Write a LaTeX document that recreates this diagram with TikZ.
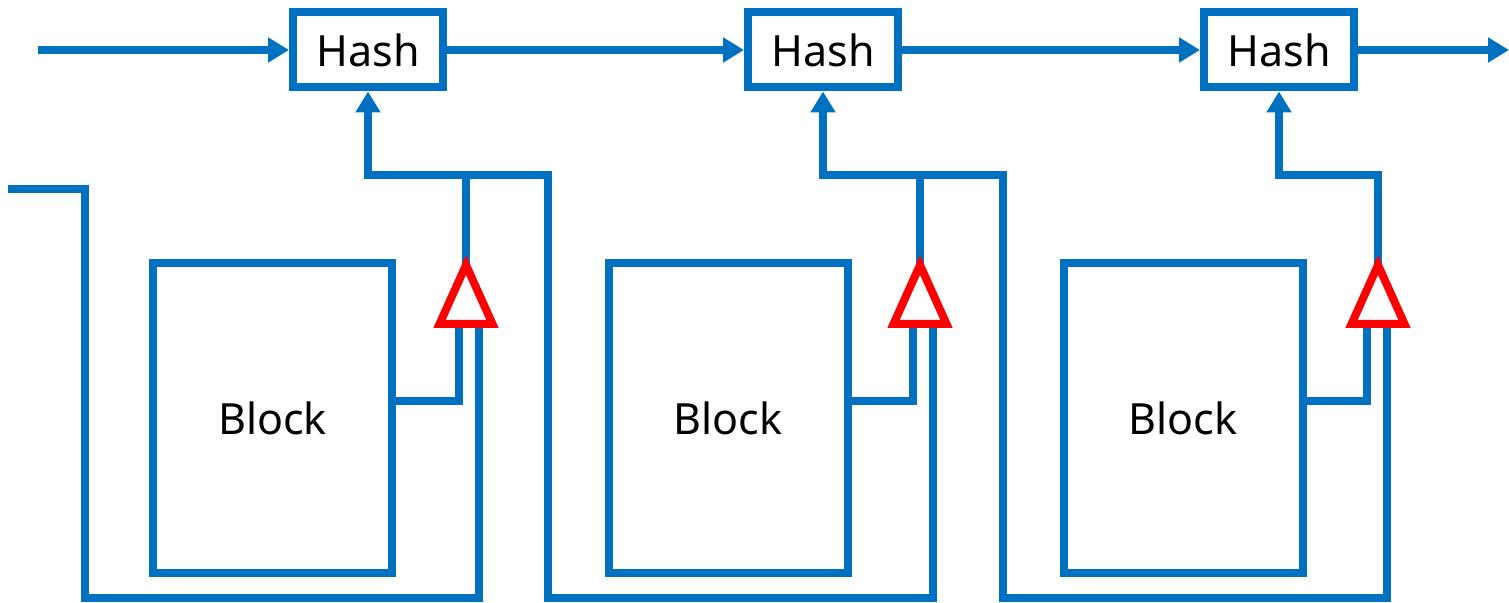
\documentclass[tikz,border=0pt]{standalone}
\usepackage{fontspec}
\setmainfont{Noto Sans}
\usetikzlibrary{arrows.meta}
\definecolor{wireblue}{RGB}{0,112,192}
\definecolor{cmpred}{RGB}{255,0,0}

\begin{document}
\begin{tikzpicture}[x=0.5pt,y=0.5pt,yscale=-1,xscale=1,
	wire/.style={draw=wireblue,line width=3.6pt},
	tip/.style={-{Triangle[length=10.5pt,width=12pt]}},
	hashbox/.style={draw=wireblue,line width=4pt,fill=white,inner sep=0pt,minimum width=75pt,minimum height=37.5pt,font=\fontsize{21.5}{24}\selectfont},
	blockbox/.style={draw=wireblue,line width=4pt,fill=white,inner sep=0pt,minimum width=119.5pt,minimum height=154.5pt,font=\fontsize{21.5}{24}\selectfont},
	cmp/.style={draw=cmpred,line width=4pt,fill=white}]
\useasboundingbox (0,0) rectangle (1509,603);

% Hash Node
\node[hashbox] (hash1) at (368,50) {Hash};
\node[hashbox] (hash2) at (823,50) {Hash};
\node[hashbox] (hash3) at (1279,50) {Hash};
% Block Node
\node[blockbox] (blk1) at (272.5,418) {Block};
\node[blockbox] (blk2) at (728,418) {Block};
\node[blockbox] (blk3) at (1183,418) {Block};

% comparator pins
\coordinate (cmp1top) at (466,265);
\coordinate (cmp1l) at (459,324);
\coordinate (cmp1r) at (479,324);
\coordinate (cmp2top) at (920,265);
\coordinate (cmp2l) at (913,324);
\coordinate (cmp2r) at (933,324);
\coordinate (cmp3top) at (1378,265);
\coordinate (cmp3l) at (1367,324);
\coordinate (cmp3r) at (1387,324);
\coordinate (in) at (38,50);
\coordinate (out) at (1509,50);
\coordinate (feed) at (8,189);

% chain of hashes
\draw[wire,tip] (in) -- (hash1);
\draw[wire,tip] (hash1) -- (hash2);
\draw[wire,tip] (hash2) -- (hash3);
\draw[wire,tip] (hash3) -- (out);

% block into comparator
\draw[wire] (blk1.east |- 0,401) -| (cmp1l);
\draw[wire] (blk2.east |- 0,401) -| (cmp2l);
\draw[wire] (blk3.east |- 0,401) -| (cmp3l);

% comparator up into hash
\draw[wire,tip] (cmp1top) |- (hash1.south |- 0,175) -- (hash1.south);
\draw[wire,tip] (cmp2top) |- (hash2.south |- 0,175) -- (hash2.south);
\draw[wire,tip] (cmp3top) |- (hash3.south |- 0,175) -- (hash3.south);

% previous hash into next comparator
\draw[wire] (feed) -| (85,598) -| (cmp1r);
\draw[wire] (cmp1top |- 0,175) -| (548,598) -| (cmp2r);
\draw[wire] (cmp2top |- 0,175) -| (1003,598) -| (cmp3r);

%Shape: Triangle
\draw[cmp] (466,265) -- (439.5,324) -- (492.5,324) -- cycle;
\draw[cmp] (920,265) -- (893.5,324) -- (946.5,324) -- cycle;
\draw[cmp] (1378,265) -- (1351.5,324) -- (1404.5,324) -- cycle;

\end{tikzpicture}
\end{document}
